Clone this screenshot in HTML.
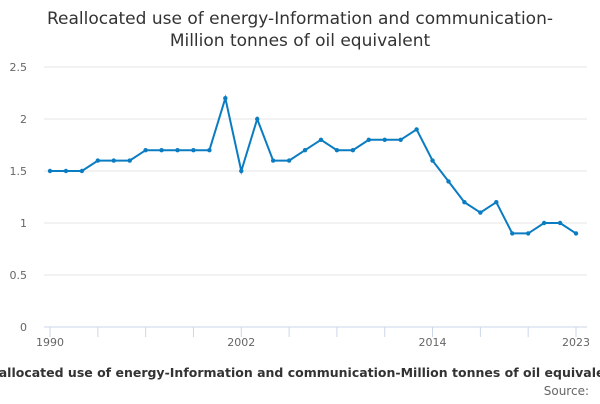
<!DOCTYPE html>
<html><head><meta charset="utf-8"><style>
body{margin:0;background:#fff;font-family:"DejaVu Sans","Liberation Sans",sans-serif;}
svg text{font-family:"DejaVu Sans","Liberation Sans",sans-serif;}
</style></head><body>
<svg id="c" width="600" height="400" xmlns="http://www.w3.org/2000/svg">
<text x="300" y="24" text-anchor="middle" font-size="17" fill="#333">Reallocated use of energy-Information and communication-</text>
<text x="300" y="46" text-anchor="middle" font-size="17" fill="#333">Million tonnes of oil equivalent</text>
<g id="grid"></g><g id="axis"></g><g id="series"></g>
<text x="300" y="377" text-anchor="middle" font-size="12.5" font-weight="bold" fill="#333">Reallocated use of energy-Information and communication-Million tonnes of oil equivalent</text>
<text x="589" y="395" text-anchor="end" font-size="12" fill="#666">Source:</text>
</svg>
<script>
const years=[1990,1991,1992,1993,1994,1995,1996,1997,1998,1999,2000,2001,2002,2003,2004,2005,2006,2007,2008,2009,2010,2011,2012,2013,2014,2015,2016,2017,2018,2019,2020,2021,2022,2023];
const values=[1.5,1.5,1.5,1.6,1.6,1.6,1.7,1.7,1.7,1.7,1.7,2.2,1.5,2.0,1.6,1.6,1.7,1.8,1.7,1.7,1.8,1.8,1.8,1.9,1.6,1.4,1.2,1.1,1.2,0.9,0.9,1.0,1.0,0.9];
const yTicks=[0,0.5,1,1.5,2,2.5];
const xLabels=[1990,2002,2014,2023];
const NS="http://www.w3.org/2000/svg";
const x=v=>50+(v-1990)*(576-50)/33;
const y=v=>327-v*104;
function mk(p,t,a){const e=document.createElementNS(NS,t);for(const k in a)e.setAttribute(k,a[k]);document.getElementById(p).appendChild(e);return e;}
yTicks.forEach(t=>{
 const l=mk('grid','line',{x1:44,x2:587,y1:y(t),y2:y(t),stroke:t===0?'#ccd6eb':'#e6e6e6'});
 
 
 const tx=mk('grid','text',{x:27,y:y(t)+4,'text-anchor':'end','font-size':11,fill:'#666'});
 tx.textContent=String(t);
 
 
});
for(let yr=1990;yr<=2023;yr+=3){
 const t=mk('axis','line',{x1:x(yr),x2:x(yr),y1:327,y2:337,stroke:'#ccd6eb'});
 
 
}
xLabels.forEach(yr=>{
 const tx=mk('axis','text',{x:x(yr),y:346,'text-anchor':'middle','font-size':11,fill:'#666'});
 tx.textContent=String(yr);
 
 
});
const p=mk('series','polyline',{points:years.map((yr,i)=>x(yr)+','+y(values[i])).join(' '),fill:'none',stroke:'#0a7cc2','stroke-width':2});


years.forEach((yr,i)=>{
 const c=mk('series','circle',{cx:x(yr),cy:y(values[i]),r:2.2,fill:'#0a7cc2'});
 
 
});
</script>
</body></html>
